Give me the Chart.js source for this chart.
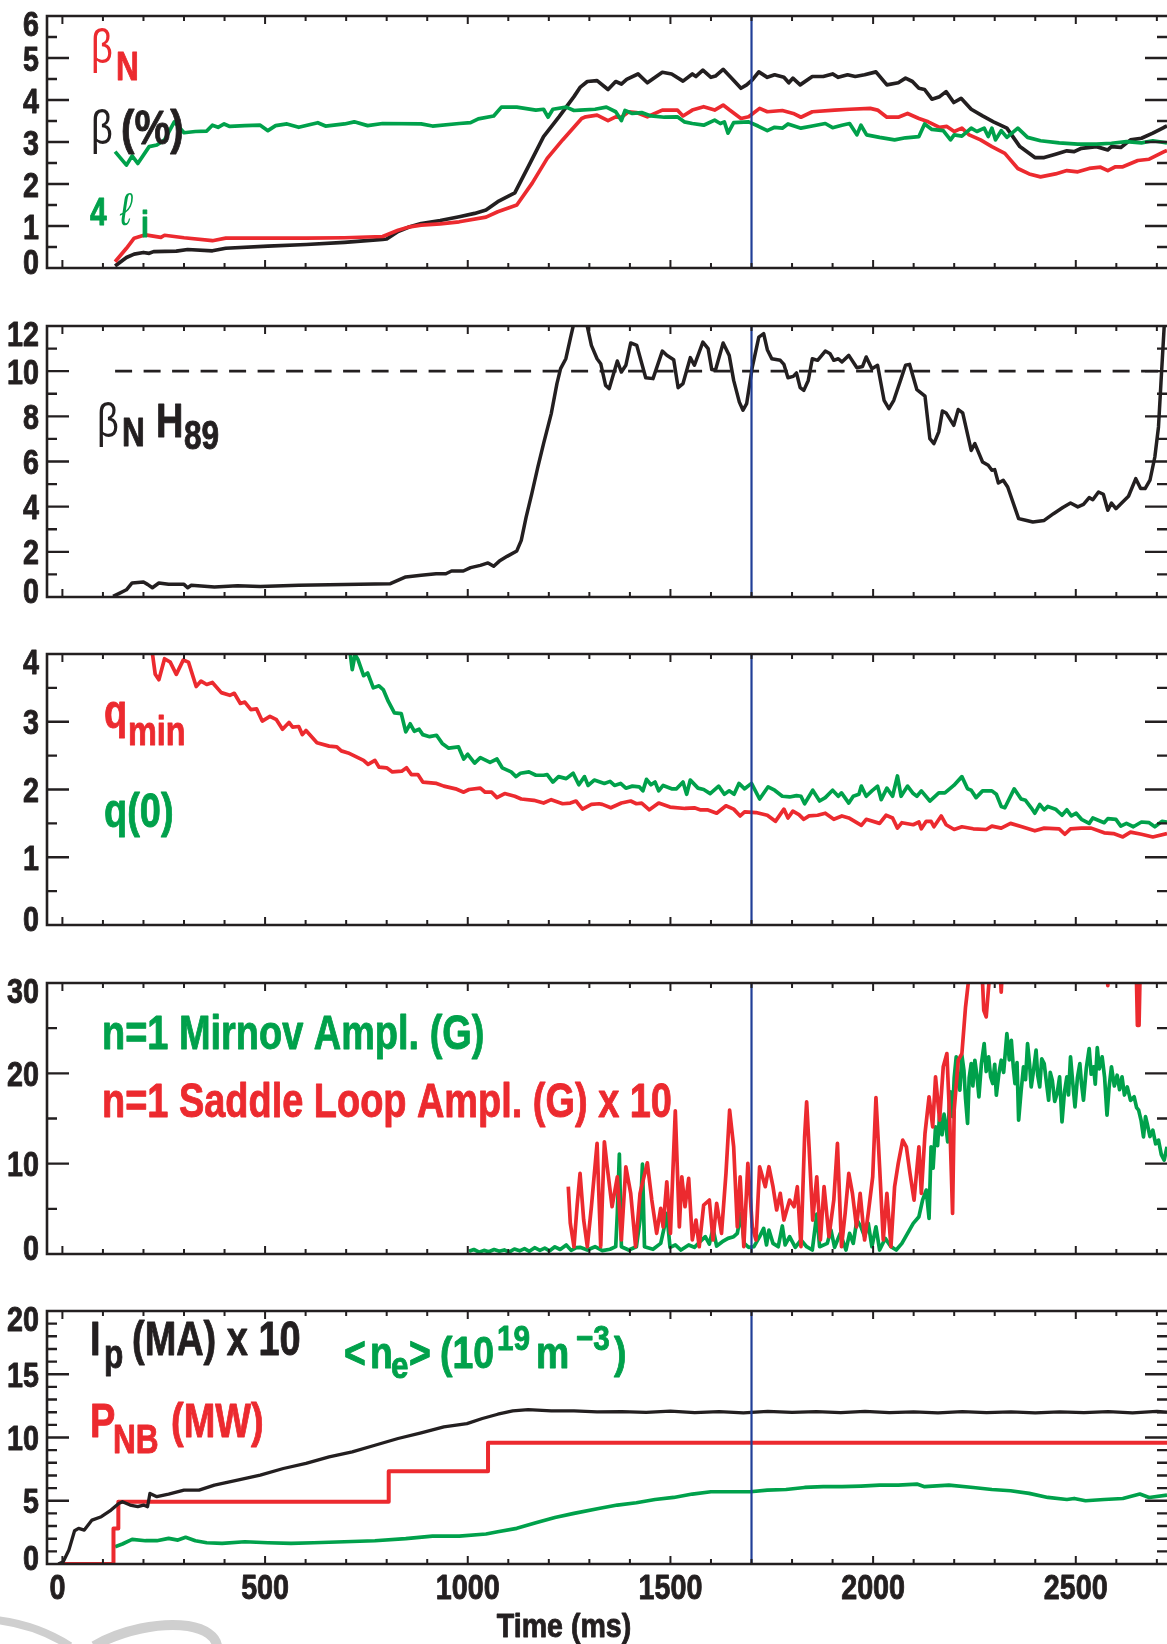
<!DOCTYPE html>
<html>
<head>
<meta charset="utf-8">
<title>Discharge time traces</title>
<script src="https://cdn.jsdelivr.net/npm/chart.js@4.4.1/dist/chart.umd.min.js"></script>
<style>
  html, body { margin: 0; padding: 0; background: #fff; }
  body { width: 1167px; height: 1644px; position: relative; overflow: hidden; }
  canvas { position: absolute; left: 0; }
  #swoosh { position: absolute; left: 0; top: 1590px; }
</style>
</head>
<body>
<svg id="swoosh" width="240" height="54" viewBox="0 0 240 54">
  <path d="M -4 30 C 22 33 48 42 70 56" stroke="#cfcfcf" stroke-width="8" fill="none"/>
  <path d="M 94 56 C 122 40 160 32 188 36 C 206 39 216 47 217 56" stroke="#cfcfcf" stroke-width="10" fill="none"/>
</svg>
<script>
// ---- time axis (ms) ----
const timeRange = [-38, 2725];
const timeLabels = [0, 500, 1000, 1500, 2000, 2500];
const markTime = 1700;

// ---- panel 1: beta_N, beta (%), 4 li ----
const betaN = [[130,0.15],[158,0.47],[177,0.71],[205,0.79],[243,0.73],[252,0.78],[300,0.72],[370,0.65],[403,0.71],[507,0.71],[602,0.71],[696,0.72],[790,0.75],[828,0.90],[857,0.98],[885,1.02],[932,1.05],[979,1.10],[1045,1.21],[1074,1.34],[1121,1.50],[1159,2.02],[1196,2.61],[1234,3.05],[1281,3.56],[1291,3.60],[1319,3.64],[1346,3.51],[1365,3.60],[1379,3.59],[1397,3.72],[1416,3.70],[1443,3.60],[1480,3.76],[1517,3.76],[1531,3.62],[1554,3.76],[1582,3.84],[1609,3.76],[1630,3.88],[1646,3.76],[1674,3.56],[1693,3.60],[1720,3.80],[1739,3.72],[1776,3.75],[1803,3.68],[1822,3.59],[1850,3.72],[1905,3.76],[1942,3.78],[1993,3.80],[2011,3.76],[2034,3.59],[2062,3.59],[2085,3.68],[2113,3.56],[2136,3.48],[2164,3.35],[2182,3.37],[2200,3.25],[2219,3.33],[2237,3.17],[2265,3.05],[2293,2.89],[2325,2.73],[2357,2.37],[2385,2.24],[2413,2.17],[2450,2.24],[2478,2.32],[2505,2.29],[2533,2.37],[2561,2.40],[2579,2.32],[2598,2.41],[2616,2.41],[2653,2.56],[2681,2.59],[2718,2.77],[2725,2.80]];
const betaPct = [[130,0.05],[158,0.25],[177,0.33],[200,0.37],[214,0.35],[225,0.39],[281,0.40],[309,0.44],[370,0.41],[403,0.47],[507,0.52],[602,0.56],[696,0.61],[790,0.68],[800,0.69],[828,0.87],[857,0.98],[885,1.06],[932,1.13],[979,1.22],[1017,1.30],[1045,1.38],[1074,1.58],[1116,1.79],[1149,2.41],[1187,3.13],[1225,3.60],[1262,4.08],[1277,4.30],[1295,4.44],[1319,4.46],[1346,4.25],[1365,4.44],[1379,4.38],[1392,4.49],[1420,4.62],[1443,4.41],[1480,4.66],[1503,4.62],[1531,4.45],[1554,4.62],[1563,4.56],[1580,4.71],[1600,4.54],[1611,4.57],[1630,4.73],[1651,4.52],[1674,4.28],[1688,4.36],[1702,4.48],[1718,4.67],[1739,4.54],[1757,4.60],[1780,4.54],[1792,4.41],[1802,4.52],[1820,4.36],[1850,4.56],[1877,4.56],[1900,4.62],[1914,4.54],[1937,4.60],[1956,4.56],[1979,4.60],[2007,4.67],[2034,4.36],[2062,4.41],[2080,4.52],[2097,4.44],[2113,4.28],[2127,4.25],[2145,4.02],[2164,4.08],[2180,4.20],[2199,3.94],[2217,4.04],[2242,3.78],[2270,3.62],[2297,3.48],[2330,3.33],[2362,2.89],[2399,2.63],[2422,2.63],[2450,2.71],[2478,2.79],[2496,2.77],[2514,2.85],[2551,2.89],[2579,2.81],[2588,2.89],[2611,2.87],[2635,3.05],[2662,3.09],[2690,3.21],[2718,3.35],[2725,3.38]];
const fourLi = [[130,2.77],[158,2.45],[172,2.67],[186,2.49],[214,2.89],[233,2.93],[252,3.05],[276,3.48],[300,3.22],[328,3.25],[356,3.26],[370,3.40],[384,3.35],[399,3.43],[413,3.37],[450,3.39],[488,3.40],[507,3.27],[526,3.39],[554,3.43],[583,3.35],[630,3.46],[649,3.38],[696,3.43],[720,3.48],[753,3.39],[790,3.44],[885,3.43],[913,3.38],[979,3.44],[1007,3.46],[1026,3.55],[1064,3.62],[1083,3.83],[1121,3.83],[1168,3.76],[1187,3.78],[1198,3.59],[1210,3.78],[1243,3.83],[1262,3.75],[1277,3.76],[1314,3.78],[1342,3.83],[1365,3.72],[1379,3.51],[1388,3.75],[1406,3.68],[1429,3.70],[1452,3.62],[1485,3.59],[1517,3.60],[1534,3.48],[1554,3.44],[1582,3.40],[1609,3.52],[1623,3.44],[1633,3.48],[1642,3.21],[1656,3.46],[1693,3.48],[1716,3.38],[1739,3.27],[1757,3.35],[1776,3.33],[1790,3.43],[1822,3.33],[1850,3.38],[1882,3.44],[1900,3.34],[1923,3.40],[1942,3.44],[1960,3.17],[1970,3.40],[1984,3.17],[2016,3.11],[2053,3.05],[2080,3.10],[2113,3.13],[2127,3.43],[2145,3.30],[2173,3.27],[2191,3.05],[2200,3.17],[2219,3.14],[2242,3.33],[2256,3.25],[2274,3.33],[2284,3.13],[2293,3.33],[2302,3.05],[2316,3.27],[2330,3.11],[2357,3.33],[2381,3.11],[2413,3.03],[2459,2.98],[2505,2.95],[2551,2.95],[2588,2.97],[2625,3.01],[2662,2.98],[2690,3.03],[2725,2.98]];

// ---- panel 2: beta_N * H89 ----
const betaNH89 = [[125,0.03],[139,0.15],[158,0.32],[172,0.62],[200,0.66],[210,0.56],[222,0.41],[238,0.62],[262,0.56],[300,0.56],[309,0.41],[318,0.52],[375,0.44],[432,0.50],[488,0.47],[583,0.52],[696,0.55],[809,0.59],[847,0.89],[885,0.96],[922,1.03],[946,1.03],[960,1.15],[989,1.15],[1007,1.30],[1031,1.40],[1050,1.51],[1064,1.36],[1078,1.59],[1097,1.80],[1121,2.04],[1132,2.51],[1144,3.54],[1158,4.58],[1173,5.76],[1187,6.79],[1206,8.12],[1220,9.45],[1229,10.11],[1242,10.55],[1253,11.44],[1264,12.3],[1278,12.8],[1291,12.3],[1305,11.14],[1319,10.55],[1328,10.33],[1340,9.37],[1349,9.23],[1369,10.45],[1379,9.96],[1390,10.26],[1402,11.25],[1417,11.14],[1439,9.71],[1457,9.67],[1480,10.89],[1491,10.70],[1508,10.51],[1519,9.27],[1531,9.45],[1549,10.60],[1559,10.26],[1580,11.29],[1593,11.00],[1602,10.07],[1611,10.04],[1630,11.25],[1645,10.70],[1656,9.59],[1670,8.63],[1679,8.27],[1688,8.56],[1702,10.18],[1718,11.51],[1730,11.66],[1739,10.95],[1750,10.55],[1771,10.48],[1780,10.30],[1790,9.71],[1803,9.77],[1811,9.92],[1820,9.27],[1829,9.15],[1840,9.59],[1850,10.55],[1863,10.48],[1882,10.89],[1894,10.77],[1903,10.48],[1914,10.55],[1923,10.41],[1940,10.70],[1960,10.15],[1974,10.21],[1983,10.63],[1997,10.11],[2011,10.26],[2027,8.71],[2039,8.34],[2051,8.71],[2069,9.67],[2080,10.26],[2090,10.30],[2108,9.18],[2128,8.89],[2140,7.01],[2150,6.79],[2162,7.31],[2171,8.24],[2180,8.15],[2199,7.60],[2210,8.30],[2221,8.15],[2242,6.49],[2251,6.79],[2270,5.98],[2284,5.83],[2293,5.61],[2300,5.64],[2309,5.05],[2321,5.17],[2332,4.87],[2359,3.47],[2371,3.42],[2394,3.32],[2422,3.39],[2445,3.69],[2468,3.96],[2487,4.16],[2505,3.99],[2519,4.10],[2533,4.40],[2542,4.31],[2556,4.65],[2568,4.55],[2579,3.84],[2588,4.16],[2599,3.91],[2630,4.46],[2648,5.24],[2660,4.80],[2671,4.80],[2683,5.17],[2695,6.20],[2704,7.53],[2710,9.45],[2718,11.96],[2725,13.5]];
const h89Ref = [[130,10],[2725,10]];

// ---- panel 3: q_min, q(0) ----
const qMin = [[215,4.4],[222,4.01],[229,3.70],[238,3.62],[252,3.93],[266,3.88],[281,3.70],[298,3.91],[311,3.88],[330,3.52],[342,3.60],[356,3.55],[370,3.58],[392,3.43],[413,3.39],[424,3.42],[439,3.27],[450,3.29],[465,3.18],[479,3.19],[493,3.01],[512,3.08],[528,3.03],[543,2.89],[559,2.99],[568,2.92],[583,2.93],[592,2.81],[601,2.87],[628,2.69],[658,2.64],[677,2.63],[688,2.57],[705,2.54],[743,2.43],[754,2.37],[771,2.43],[781,2.33],[800,2.32],[814,2.26],[837,2.27],[849,2.32],[861,2.22],[877,2.22],[889,2.11],[923,2.09],[941,2.05],[970,2.01],[990,1.96],[1003,2.00],[1031,2.02],[1043,1.96],[1059,1.96],[1072,1.88],[1091,1.94],[1116,1.90],[1132,1.86],[1163,1.84],[1187,1.80],[1206,1.85],[1234,1.79],[1253,1.80],[1267,1.83],[1283,1.71],[1305,1.78],[1324,1.79],[1332,1.78],[1353,1.73],[1379,1.80],[1402,1.83],[1416,1.79],[1429,1.80],[1448,1.70],[1471,1.80],[1499,1.74],[1536,1.72],[1559,1.73],[1573,1.70],[1591,1.70],[1614,1.65],[1637,1.76],[1656,1.71],[1672,1.61],[1683,1.67],[1711,1.66],[1739,1.62],[1759,1.53],[1780,1.71],[1790,1.58],[1802,1.68],[1817,1.63],[1829,1.56],[1842,1.61],[1863,1.62],[1882,1.65],[1903,1.56],[1923,1.61],[1940,1.58],[1971,1.47],[1983,1.56],[2016,1.50],[2032,1.62],[2048,1.58],[2060,1.43],[2071,1.51],[2099,1.48],[2113,1.52],[2119,1.42],[2131,1.53],[2143,1.53],[2150,1.45],[2168,1.61],[2180,1.48],[2200,1.41],[2219,1.45],[2247,1.42],[2279,1.41],[2293,1.46],[2316,1.43],[2339,1.50],[2367,1.45],[2399,1.39],[2422,1.43],[2459,1.42],[2473,1.34],[2487,1.42],[2514,1.43],[2538,1.43],[2570,1.36],[2593,1.35],[2616,1.30],[2635,1.37],[2662,1.34],[2690,1.30],[2725,1.35]];
const q0 = [[700,4.4],[710,4.01],[715,3.77],[722,3.99],[729,3.92],[743,3.68],[753,3.72],[767,3.50],[781,3.53],[792,3.47],[804,3.30],[819,3.13],[836,3.12],[847,2.85],[858,2.97],[868,2.86],[880,2.89],[889,2.81],[906,2.78],[923,2.80],[937,2.68],[953,2.61],[977,2.63],[990,2.45],[1000,2.52],[1017,2.39],[1031,2.47],[1055,2.40],[1072,2.45],[1085,2.32],[1107,2.26],[1119,2.19],[1130,2.24],[1151,2.26],[1168,2.21],[1187,2.21],[1196,2.22],[1210,2.11],[1224,2.19],[1243,2.16],[1260,2.24],[1274,2.07],[1288,2.19],[1297,2.06],[1312,2.14],[1337,2.09],[1351,2.12],[1362,2.06],[1377,2.09],[1390,2.02],[1406,2.05],[1423,2.04],[1432,1.98],[1441,2.15],[1452,2.07],[1462,2.11],[1471,1.98],[1482,2.06],[1503,2.01],[1515,2.01],[1531,2.11],[1540,1.93],[1549,2.14],[1568,2.02],[1582,2.00],[1598,1.94],[1619,2.05],[1633,1.93],[1645,1.98],[1657,1.93],[1669,2.09],[1683,2.01],[1700,2.09],[1720,1.86],[1741,2.04],[1757,1.99],[1776,1.90],[1794,1.89],[1811,1.91],[1822,1.90],[1831,1.79],[1851,1.99],[1868,1.83],[1882,1.88],[1900,1.99],[1914,1.90],[1922,1.95],[1940,1.80],[1951,1.90],[1965,1.93],[1971,2.05],[1983,1.90],[1997,1.98],[2011,2.05],[2020,1.85],[2034,2.02],[2048,1.90],[2060,2.20],[2069,1.90],[2085,2.05],[2099,1.94],[2108,1.90],[2119,1.98],[2140,1.83],[2162,1.95],[2177,1.95],[2199,2.06],[2219,2.19],[2233,2.01],[2242,1.99],[2254,1.88],[2270,1.98],[2293,1.98],[2304,1.93],[2316,1.75],[2325,1.73],[2348,2.01],[2365,1.86],[2376,1.84],[2390,1.73],[2399,1.65],[2411,1.78],[2422,1.70],[2431,1.75],[2450,1.71],[2466,1.62],[2478,1.70],[2489,1.61],[2501,1.65],[2514,1.56],[2533,1.50],[2542,1.58],[2570,1.51],[2579,1.57],[2599,1.56],[2611,1.46],[2625,1.50],[2642,1.45],[2662,1.52],[2681,1.51],[2695,1.45],[2713,1.53],[2725,1.52]];

// ---- panel 4: n=1 Mirnov and saddle loop (x10) amplitudes ----
const mirnov = [[1003,0.3],[1015,0.5],[1028,0.2],[1040,0.4],[1052,0.25],[1065,0.5],[1078,0.3],[1090,0.45],[1102,0.2],[1115,0.55],[1128,0.35],[1140,0.6],[1152,0.3],[1165,0.7],[1178,0.4],[1190,0.65],[1202,0.35],[1215,0.8],[1228,0.5],[1243,1.0],[1255,0.4],[1268,0.7],[1277,0.74],[1295,0.44],[1314,0.81],[1332,0.37],[1351,0.52],[1365,0.81],[1369,4.5],[1374,11.06],[1379,0.8],[1397,0.44],[1416,0.81],[1425,3.76],[1431,9.95],[1436,0.81],[1457,0.52],[1476,1.18],[1485,3.0],[1491,4.5],[1499,0.74],[1512,1.0],[1526,0.44],[1545,1.0],[1559,0.74],[1573,1.36],[1586,1.92],[1596,1.1],[1605,2.84],[1614,0.88],[1628,1.36],[1642,1.73],[1656,1.92],[1665,2.29],[1674,4.5],[1682,1.18],[1693,0.74],[1706,0.81],[1720,1.92],[1730,2.84],[1737,1.0],[1743,2.65],[1753,1.18],[1766,0.81],[1776,3.1],[1783,1.0],[1794,1.92],[1808,0.74],[1822,1.55],[1836,0.81],[1850,0.44],[1861,4.42],[1868,0.81],[1887,1.18],[1896,2.65],[1905,0.74],[1919,2.29],[1933,0.44],[1942,2.29],[1951,1.18],[1960,3.76],[1970,3.0],[1979,1.92],[1988,3.39],[1997,0.81],[2007,3.0],[2016,0.44],[2030,1.73],[2044,0.81],[2057,0.44],[2071,1.18],[2085,2.29],[2099,3.39],[2113,4.13],[2122,5.97],[2131,7.08],[2138,3.94],[2143,11.87],[2148,9.5],[2154,14.08],[2159,12.0],[2164,15.37],[2170,13.2],[2175,15.48],[2180,14.0],[2184,12.42],[2188,16.5],[2191,17.95],[2196,15.2],[2200,19.5],[2205,21.82],[2209,19.0],[2214,18.13],[2219,22.0],[2224,20.35],[2228,17.2],[2233,14.45],[2237,19.5],[2242,21.08],[2246,18.6],[2251,21.45],[2256,19.8],[2261,17.4],[2267,21.0],[2274,23.29],[2279,20.2],[2285,21.82],[2290,19.6],[2295,18.87],[2300,21.0],[2304,17.58],[2310,19.9],[2316,21.45],[2322,20.1],[2330,24.40],[2336,21.5],[2341,23.66],[2346,20.6],[2350,18.87],[2355,21.2],[2359,14.82],[2365,18.0],[2371,20.72],[2376,19.3],[2381,23.29],[2386,21.0],[2390,18.5],[2396,20.4],[2402,22.56],[2406,19.8],[2411,18.5],[2416,21.6],[2422,21.08],[2427,19.2],[2433,17.03],[2437,20.1],[2442,19.24],[2448,16.9],[2454,17.77],[2460,19.6],[2466,14.63],[2472,17.9],[2478,19.61],[2482,17.6],[2487,21.82],[2492,19.2],[2498,16.29],[2504,19.5],[2510,21.08],[2514,18.9],[2519,17.03],[2526,20.6],[2533,22.74],[2538,19.9],[2544,20.72],[2548,18.8],[2553,22.85],[2558,20.5],[2565,21.82],[2571,19.6],[2577,15.37],[2582,18.4],[2588,20.72],[2595,18.6],[2602,19.79],[2608,18.2],[2614,19.61],[2620,17.6],[2627,18.5],[2635,17.0],[2644,17.4],[2650,16.2],[2655,15.92],[2661,14.8],[2667,12.97],[2672,15.2],[2676,14.45],[2683,13.0],[2690,13.71],[2697,12.2],[2704,12.61],[2711,11.0],[2718,10.39],[2725,11.87]];
const saddle = [[1248,7.45],[1253,3.4],[1262,0.8],[1270,5.5],[1277,8.92],[1286,3.76],[1295,0.81],[1305,5.23],[1319,12.24],[1328,0.81],[1337,12.42],[1343,10.03],[1356,5.23],[1369,8.55],[1379,1.55],[1390,9.66],[1402,6.71],[1414,0.81],[1425,6.71],[1443,10.1],[1454,5.97],[1466,2.29],[1476,5.05],[1482,3.0],[1491,8.0],[1500,2.29],[1512,15.85],[1522,3.0],[1528,8.55],[1536,5.23],[1545,8.37],[1554,1.55],[1563,3.76],[1571,0.81],[1582,5.42],[1596,5.97],[1605,1.55],[1614,5.6],[1626,2.29],[1637,8.92],[1646,15.92],[1656,11.87],[1665,3.0],[1672,8.55],[1681,0.81],[1691,10.03],[1702,3.0],[1711,1.55],[1720,9.66],[1734,7.45],[1743,9.66],[1753,7.45],[1762,4.87],[1771,6.71],[1780,3.76],[1794,5.97],[1805,5.23],[1813,7.45],[1822,0.81],[1831,12.97],[1836,16.84],[1842,11.87],[1851,3.76],[1861,8.55],[1870,1.55],[1879,7.45],[1891,1.92],[1903,5.97],[1912,12.24],[1922,0.81],[1931,4.5],[1940,8.92],[1949,6.71],[1959,3.0],[1968,6.71],[1979,1.55],[1988,4.5],[1999,8.55],[2007,17.32],[2016,9.66],[2025,1.55],[2034,6.71],[2044,0.81],[2053,7.45],[2062,10.03],[2073,12.6],[2082,11.87],[2091,8.92],[2101,5.97],[2113,11.87],[2119,6.71],[2128,13.34],[2138,17.4],[2147,14.08],[2154,19.61],[2164,14.82],[2173,20.72],[2182,22.19],[2189,14.82],[2196,4.5],[2200,15.92],[2210,21.45],[2219,22.19],[2228,27.35],[2236,30.5],[2243,34],[2266,34],[2273,26.98],[2279,26.24],[2285,29.6],[2293,34],[2310,34],[2316,29.0],[2322,34],[2574,34],[2579,29.7],[2584,34],[2648,34],[2652,25.3],[2656,25.3],[2660,34],[2725,34]];

// ---- panel 5: Ip (MA) x10, P_NB (MW), <ne> ----
const ipx10 = [[-10,0],[2,0.18],[16,1.1],[30,2.63],[40,2.82],[54,2.68],[73,3.47],[96,3.74],[120,4.26],[139,4.79],[148,4.92],[167,4.66],[186,4.53],[200,4.66],[210,4.53],[216,5.58],[233,5.32],[262,5.53],[300,5.84],[337,5.84],[375,6.24],[432,6.63],[488,7.03],[545,7.55],[601,7.95],[658,8.47],[715,8.87],[771,9.39],[828,9.92],[885,10.37],[941,10.84],[998,11.1],[1036,11.5],[1074,11.84],[1111,12.1],[1149,12.21],[1206,12.1],[1262,12.1],[1319,12.03],[1380,12.05],[1440,11.98],[1500,12.08],[1560,11.97],[1620,12.04],[1680,11.95],[1740,12.07],[1800,11.98],[1860,12.05],[1920,11.96],[1980,12.06],[2040,11.97],[2100,12.03],[2160,11.95],[2220,12.04],[2280,11.96],[2340,12.02],[2400,11.94],[2460,12.03],[2520,11.97],[2580,12.04],[2640,11.95],[2700,12.06],[2725,12.0]];
const pnb = [[2,0],[126,0],[126,2.8],[138,2.8],[138,4.92],[805,4.92],[805,7.34],[1050,7.34],[1050,9.58],[2725,9.58]];
const neBar = [[130,1.37],[148,1.58],[172,1.95],[205,1.84],[233,1.84],[262,2.03],[285,1.89],[304,2.11],[328,1.84],[356,1.68],[394,1.63],[450,1.76],[507,1.68],[564,1.63],[620,1.68],[696,1.76],[771,1.84],[847,2.0],[913,2.21],[979,2.21],[1045,2.37],[1074,2.55],[1121,2.82],[1168,3.26],[1215,3.68],[1262,4.0],[1323,4.39],[1369,4.66],[1416,4.84],[1462,5.1],[1508,5.26],[1554,5.53],[1600,5.71],[1646,5.71],[1697,5.71],[1739,5.84],[1785,5.89],[1831,6.05],[1877,6.11],[1923,6.11],[1970,6.16],[2016,6.24],[2062,6.24],[2108,6.32],[2127,6.11],[2187,6.24],[2247,6.05],[2293,5.89],[2339,5.79],[2385,5.58],[2431,5.26],[2478,5.1],[2496,5.18],[2524,5.0],[2570,5.1],[2616,5.18],[2658,5.53],[2681,5.26],[2725,5.45]];

// ---- styling ----
const ink = '#231f20', red = '#ec2a2f', green = '#00a14b', navy = '#213f98';
const fontFamily = '"Liberation Sans", Arial, Helvetica, sans-serif';
const squeeze = 0.79;
const tickSize = 35, tickSqueeze = 0.82;
const pageBottom = 1644;

const panels = [
  {
    top: 16, bottom: 268, padTop: 16, yMin: 0, yMax: 6, yLabels: [0, 1, 2, 3, 4, 5, 6], major: 1, minor: 0.5,
    series: [
      { data: fourLi, color: green, width: 3.7 },
      { data: betaN, color: red, width: 3.7 },
      { data: betaPct, color: ink, width: 3.7 }
    ],
    text: [
      { t: 'β', x: 91, y: 63, size: 48, w: 'normal', c: red },
      { t: 'N', x: 116, y: 80, size: 40, c: red },
      { t: 'β', x: 91, y: 144, size: 48, w: 'normal', c: ink },
      { t: '(%)', x: 121, y: 144, size: 48, c: ink, sx: 0.84 },
      { t: '4', x: 90, y: 225, size: 38, c: green },
      { t: 'ℓ', x: 120, y: 225, size: 46, w: 'normal', it: true, c: green },
      { t: 'i', x: 141, y: 237, size: 36, c: green }
    ]
  },
  {
    top: 326, bottom: 597, padTop: 22, yMin: 0, yMax: 12, yLabels: [0, 2, 4, 6, 8, 10, 12], major: 2, minor: 1,
    series: [
      { data: betaNH89, color: ink, width: 3.5 },
      { data: h89Ref, color: ink, width: 2.6, dash: [17, 11.5] }
    ],
    text: [
      { t: 'β', x: 97, y: 437, size: 48, w: 'normal', c: ink },
      { t: 'N', x: 122, y: 446, size: 40, c: ink },
      { t: 'H', x: 156, y: 437, size: 48, c: ink },
      { t: '89', x: 184, y: 449, size: 40, c: ink }
    ]
  },
  {
    top: 654, bottom: 925, padTop: 22, yMin: 0, yMax: 4, yLabels: [0, 1, 2, 3, 4], major: 1, minor: 0.5,
    series: [
      { data: q0, color: green, width: 3.7 },
      { data: qMin, color: red, width: 3.7 }
    ],
    text: [
      { t: 'q', x: 104, y: 728, size: 48, c: red },
      { t: 'min', x: 128, y: 745, size: 41, c: red },
      { t: 'q(0)', x: 104, y: 827, size: 48, c: green }
    ]
  },
  {
    top: 983, bottom: 1254, padTop: 22, yMin: 0, yMax: 30, yLabels: [0, 10, 20, 30], major: 10, minor: 5,
    series: [
      { data: saddle, color: red, width: 3.7 },
      { data: mirnov, color: green, width: 3.7 }
    ],
    text: [
      { t: 'n=1 Mirnov Ampl. (G)', x: 102, y: 1049, size: 48, c: green },
      { t: 'n=1 Saddle Loop Ampl. (G) x 10', x: 102, y: 1117, size: 48, c: red }
    ]
  },
  {
    top: 1311, bottom: 1564, padTop: 20, yMin: 0, yMax: 20, yLabels: [0, 5, 10, 15, 20], major: 5, minor: 1,
    series: [
      { data: ipx10, color: ink, width: 3.3 },
      { data: pnb, color: red, width: 4 },
      { data: neBar, color: green, width: 3.7 }
    ],
    text: [
      { t: 'I', x: 90, y: 1355, size: 48, c: ink },
      { t: 'p', x: 104, y: 1368, size: 40, c: ink },
      { t: '(MA) x 10', x: 132, y: 1355, size: 48, c: ink },
      { t: 'P', x: 90, y: 1437, size: 48, c: red },
      { t: 'NB', x: 113, y: 1453, size: 40, c: red },
      { t: '(MW)', x: 171, y: 1437, size: 48, c: red },
      { t: '<', x: 344, y: 1368, size: 44, c: green, sx: 0.85 },
      { t: 'n', x: 370, y: 1368, size: 44, c: green, sx: 0.85 },
      { t: 'e', x: 391, y: 1378, size: 37, c: green, sx: 0.85 },
      { t: '>', x: 409, y: 1368, size: 44, c: green, sx: 0.85 },
      { t: '(10', x: 440, y: 1368, size: 44, c: green, sx: 0.85 },
      { t: '19', x: 497, y: 1350, size: 35, c: green, sx: 0.85 },
      { t: 'm', x: 536, y: 1368, size: 44, c: green, sx: 0.85 },
      { t: '−3', x: 576, y: 1350, size: 35, c: green, sx: 0.85 },
      { t: ')', x: 614, y: 1368, size: 44, c: green, sx: 0.85 },
      { t: 'Time (ms)', x: 564, y: 1637, size: 34, c: ink, sx: 0.84, align: 'center' }
    ]
  }
];

// condensed text; a thin outline in the fill colour keeps the stems heavy
function squeezedText(ctx, text, x, y, align, sx, heavy) {
  ctx.save();
  ctx.translate(x, y);
  ctx.scale(sx, 1);
  ctx.textAlign = align;
  ctx.fillText(text, 0, 0);
  if (heavy) {
    ctx.strokeStyle = ctx.fillStyle;
    ctx.lineWidth = 0.9;
    ctx.lineJoin = 'round';
    ctx.strokeText(text, 0, 0);
  }
  ctx.restore();
}

// frame, inward ticks on all sides and the time marker
function framePlugin(p) {
  return {
    id: 'panelFrame',
    afterDatasetsDraw(chart) {
      const { ctx, chartArea: a, scales: { x, y } } = chart;
      ctx.save();
      const mx = x.getPixelForValue(markTime);
      ctx.strokeStyle = navy;
      ctx.lineWidth = 2.2;
      ctx.beginPath();
      ctx.moveTo(mx, a.top);
      ctx.lineTo(mx, a.bottom);
      ctx.stroke();

      ctx.strokeStyle = ink;
      ctx.lineWidth = 2.6;
      ctx.beginPath();
      ctx.moveTo(a.right + 3, a.top);
      ctx.lineTo(a.left, a.top);
      ctx.lineTo(a.left, a.bottom);
      ctx.lineTo(a.right + 3, a.bottom);
      ctx.stroke();

      ctx.lineWidth = 2.4;
      ctx.beginPath();
      const n = Math.round((p.yMax - p.yMin) / p.minor);
      for (let i = 1; i < n; i++) {
        const v = p.yMin + i * p.minor;
        const isMajor = Math.abs(v / p.major - Math.round(v / p.major)) < 1e-6;
        const len = isMajor ? 22 : 10;
        const py = y.getPixelForValue(v);
        ctx.moveTo(a.left, py); ctx.lineTo(a.left + len, py);
        ctx.moveTo(a.right, py); ctx.lineTo(a.right - len, py);
      }
      ctx.stroke();

      ctx.lineWidth = 2;
      ctx.beginPath();
      for (let t = 0; t <= timeRange[1]; t += 100) {
        const len = t % 500 === 0 ? 8 : 5;
        const px = x.getPixelForValue(t);
        ctx.moveTo(px, a.top); ctx.lineTo(px, a.top + len);
        ctx.moveTo(px, a.bottom); ctx.lineTo(px, a.bottom - len);
      }
      ctx.stroke();
      ctx.restore();
    }
  };
}

// tick labels from the scales, plus the in-panel labels
function textPlugin(p, offset, last) {
  return {
    id: 'panelText',
    afterDraw(chart) {
      const { ctx, chartArea: a, scales: { x, y } } = chart;
      const half = tickSize * 0.358;
      ctx.save();
      ctx.font = 'bold ' + tickSize + 'px ' + fontFamily;
      ctx.fillStyle = ink;
      ctx.textBaseline = 'alphabetic';
      for (const tk of y.ticks) {
        let py = y.getPixelForValue(tk.value);
        if (tk.value === p.yMax) py += 7;
        else if (tk.value === p.yMin) py -= 7;
        squeezedText(ctx, String(tk.value), a.left - 8, py + half, 'right', tickSqueeze, true);
      }
      if (last) {
        for (const tk of x.ticks) {
          const px = x.getPixelForValue(tk.value) - (tk.value === timeLabels[0] ? 5 : 0);
          squeezedText(ctx, String(tk.value), px, a.bottom + 22 + half, 'center', tickSqueeze, true);
        }
      }
      for (const r of p.text) {
        ctx.font = (r.it ? 'italic ' : '') + (r.w || 'bold') + ' ' + r.size + 'px ' + fontFamily;
        ctx.fillStyle = r.c;
        squeezedText(ctx, r.t, r.x, r.y - offset, r.align || 'left', r.sx || squeeze, r.w !== 'normal');
      }
      ctx.restore();
    }
  };
}

panels.forEach((p, i) => {
  const last = i === panels.length - 1;
  const cTop = p.top - p.padTop;
  const cBottom = last ? pageBottom : p.bottom + 26;
  const canvas = document.createElement('canvas');
  canvas.width = 1167;
  canvas.height = cBottom - cTop;
  canvas.style.top = cTop + 'px';
  document.body.appendChild(canvas);

  new Chart(canvas, {
    type: 'line',
    data: {
      datasets: p.series.map(s => ({
        data: s.data.map(([t, v]) => ({ x: t, y: v })),
        borderColor: s.color,
        borderWidth: s.width,
        borderDash: s.dash || [],
        borderJoinStyle: 'round',
        pointRadius: 0,
        fill: false,
        tension: 0
      }))
    },
    options: {
      responsive: false,
      devicePixelRatio: 1,
      animation: false,
      events: [],
      layout: { padding: { top: p.padTop, bottom: last ? 0 : cBottom - p.bottom, left: 0, right: 0 } },
      plugins: { legend: { display: false }, tooltip: { enabled: false } },
      scales: {
        x: {
          type: 'linear',
          min: timeRange[0],
          max: timeRange[1],
          display: last,
          grid: { display: false, drawTicks: false },
          border: { display: false },
          ticks: { display: false },
          afterBuildTicks: s => { s.ticks = timeLabels.map(v => ({ value: v })); },
          afterFit: s => {
            if (!last) return;
            s.height = pageBottom - p.bottom;
            s.paddingLeft = 0;
            s.paddingRight = 0;
          }
        },
        y: {
          type: 'linear',
          min: p.yMin,
          max: p.yMax,
          grid: { display: false, drawTicks: false },
          border: { display: false },
          ticks: { display: false },
          afterBuildTicks: s => { s.ticks = p.yLabels.map(v => ({ value: v })); },
          afterFit: s => { s.width = 47; s.paddingTop = 0; s.paddingBottom = 0; }
        }
      }
    },
    plugins: [framePlugin(p), textPlugin(p, cTop, last)]
  });
});
</script>
</body>
</html>
